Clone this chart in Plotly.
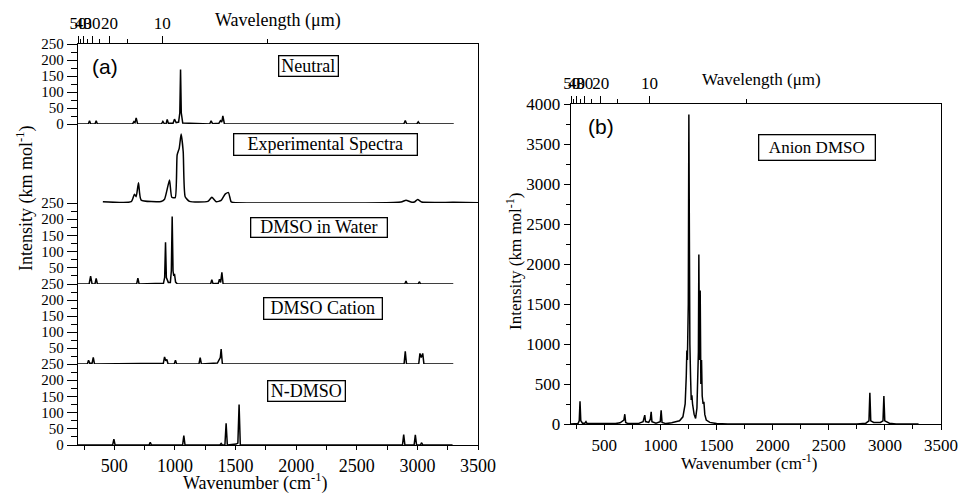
import plotly.graph_objects as go

# ---------------- data ----------------
# Panel (a) — five stacked spectra, wavenumber (cm-1) vs intensity (km/mol)
neutral_x = [200, 285, 295, 305, 340, 350, 360, 650, 661, 670, 680, 692, 888, 900, 912,
             926, 936, 946, 984, 996, 1010, 1030, 1040, 1046, 1052, 1064, 1286, 1298, 1310,
             1362, 1375, 1386, 1395, 1408, 2888, 2900, 2912, 2995, 3007, 3019, 3300]
neutral_y = [0, 0, 10, 0, 0, 10, 0, 0, 7, 4, 19, 0, 0, 8, 1,
             0, 14, 2, 2, 15, 4, 6, 35, 170, 35, 3, 0, 10, 1,
             2, 10, 6, 25, 0, 0, 11, 0, 0, 7, 0, 0]

exp_x = [405, 639, 666, 680, 699, 721, 886, 914, 933, 955, 974, 1002, 1018, 1035, 1051,
         1068, 1084, 1120, 1271, 1304, 1340, 1381, 1414, 1441, 1463, 1480, 2865, 2906,
         2947, 2975, 3002, 3035, 3300, 3600]
exp_y = [4, 4, 28, 20, 64, 9, 5, 12, 39, 73, 18, 17, 152, 173, 218,
         162, 20, 5, 5, 18, 4, 8, 28, 33, 4, 2, 3, 9,
         3, 3, 11, 3, 2, 0]

water_x = [200, 292, 304, 316, 340, 350, 360, 684, 694, 704, 905, 915, 922, 929, 945,
           962, 970, 977, 984, 990, 996, 1005, 1020, 1294, 1304, 1314, 1357, 1367, 1377,
           1387, 1397, 2896, 2906, 2916, 3006, 3016, 3026, 3296]
water_y = [0, 0, 24, 0, 0, 17, 0, 0, 18, 0, 2, 20, 129, 20, 5,
           5, 40, 208, 40, 25, 31, 6, 0, 0, 13, 1, 2, 15, 5,
           36, 0, 0, 9, 0, 0, 7, 0, 0]

cation_x = [200, 277, 287, 297, 316, 326, 336, 904, 914, 924, 933, 943, 994, 1004, 1014,
            1198, 1208, 1218, 1350, 1367, 1374, 1381, 1391, 2890, 2900, 2910, 3011, 3021,
            3032, 3044, 3054, 3296]
cation_y = [0, 0, 12, 2, 2, 21, 0, 2, 22, 10, 14, 0, 0, 12, 0,
            0, 20, 0, 3, 14, 20, 47, 0, 0, 40, 0, 0, 33,
            20, 33, 0, 0]

ndmso_x = [200, 486, 496, 506, 786, 796, 806, 1063, 1073, 1083, 1371, 1381, 1391, 1412,
           1422, 1432, 1505, 1519, 1529, 1539, 2877, 2887, 2897, 2973, 2983, 2993, 3025,
           3035, 3045, 3290]
ndmso_y = [0, 0, 18, 0, 0, 8, 0, 0, 29, 0, 0, 5, 0, 0,
           67, 0, 3, 6, 125, 0, 0, 32, 0, 0, 31, 0, 0,
           7, 0, 0]

# Panel (b) — anion DMSO
anion_x = [200, 265, 276, 283, 290, 305, 326, 336, 346, 600, 640, 664, 674, 682, 690, 710,
           800, 845, 853, 860, 867, 895, 910, 917, 924, 960, 998, 1006, 1014, 1050,
           1100, 1170, 1200, 1220, 1230, 1235, 1240, 1248, 1253, 1258, 1262, 1268, 1274,
           1280, 1286, 1300, 1313, 1325, 1333, 1338, 1342, 1348, 1354, 1360, 1366, 1372,
           1380, 1387, 1395, 1408, 1440, 1500, 1600, 2750, 2830, 2858, 2866, 2874, 2900,
           2960, 2983, 2991, 2999, 3040, 3100, 3300]
anion_y = [0, 5, 40, 285, 40, 10, 10, 30, 5, 5, 15, 40, 50, 122, 20, 5,
           5, 30, 60, 110, 30, 20, 60, 152, 30, 10, 30, 172, 20, 5,
           15, 40, 90, 250, 600, 920, 800, 1500, 3870, 1550, 1000, 600, 300,
           360, 250, 120, 70, 200, 500, 900, 2120, 800, 1670, 500, 800, 350,
           250, 277, 120, 50, 20, 5, 0, 0, 10, 40, 390, 40, 20,
           20, 40, 350, 40, 10, 0, 0]

panel_labels = ["Neutral", "Experimental Spectra", "DMSO in Water", "DMSO Cation", "N-DMSO"]

wn_ticks = [500, 1000, 1500, 2000, 2500, 3000, 3500]
wl_major = [50, 40, 30, 20, 10]
wl_minor = [45, 35, 25, 15, 5]

# ---------------- figure ----------------
W, H = 959, 494
SERIF = "Liberation Serif"
SANS = "Liberation Sans"
LW = 1.5
LINE = dict(color="black", width=LW)


def px_x(p):
    return p / W


def px_y(p):
    return 1 - p / H


fig = go.Figure()

series_a = [(neutral_x, neutral_y, "y", "linear"),
            (exp_x, exp_y, "y2", "spline"),
            (water_x, water_y, "y3", "linear"),
            (cation_x, cation_y, "y4", "linear"),
            (ndmso_x, ndmso_y, "y5", "linear")]
for xs, ys, ya, shape in series_a:
    ln = dict(color="black", width=LW, shape=shape)
    if shape == "spline":
        ln["smoothing"] = 0.5
    fig.add_trace(go.Scatter(x=xs, y=ys, xaxis="x", yaxis=ya, mode="lines", line=ln,
                             hoverinfo="skip", showlegend=False))
fig.add_trace(go.Scatter(x=anion_x, y=anion_y, xaxis="x3", yaxis="y6", mode="lines",
                         line=LINE, hoverinfo="skip", showlegend=False))
# invisible traces so the top (wavelength) axes get drawn
fig.add_trace(go.Scatter(x=[1000], y=[None], xaxis="x2", yaxis="y", mode="lines",
                         hoverinfo="skip", showlegend=False))
fig.add_trace(go.Scatter(x=[1000], y=[None], xaxis="x4", yaxis="y6", mode="lines",
                         hoverinfo="skip", showlegend=False))

# panel (a) geometry (pixels)
ax_left, ax_right = 78, 478
bounds = [44, 124, 203, 284, 364, 445]
xdom_a = [px_x(ax_left), px_x(ax_right)]

tick_font_y = dict(family=SERIF, size=15, color="black")
tick_font_x = dict(family=SERIF, size=18, color="black")
TK = dict(tickwidth=1.2, tickcolor="black")
AXW = 1.3

common_y = dict(range=[0, 250], showline=True, linecolor="black", linewidth=AXW,
                mirror=True, showgrid=False, zeroline=False, fixedrange=True,
                tickfont=tick_font_y, anchor="x", automargin=False)

y_tickvals = [[0, 50, 100, 150, 200, 250],
              None,
              [50, 100, 150, 200, 250],
              [50, 100, 150, 200, 250],
              [0, 50, 100, 150, 200, 250]]
for i in range(5):
    name = "yaxis" if i == 0 else f"yaxis{i+1}"
    dom = [px_y(bounds[i + 1]), px_y(bounds[i])]
    cfg = dict(common_y, domain=dom)
    if y_tickvals[i] is None:
        cfg.update(showticklabels=False, ticks="")
    else:
        cfg.update(tickmode="array", tickvals=y_tickvals[i],
                   ticktext=[str(v) for v in y_tickvals[i]],
                   ticks="outside", ticklen=10, **TK,
                   minor=dict(ticks="outside", dtick=25, tick0=0, ticklen=6, **TK))
    fig.update_layout(**{name: cfg})

top_common = dict(side="top", showline=True, linecolor="black", linewidth=AXW,
                  showgrid=False, zeroline=False, tickmode="array",
                  tickvals=[10000 / v for v in wl_major],
                  ticktext=[str(v) for v in wl_major], tickangle=0,
                  ticks="outside", ticklen=7, **TK,
                  minor=dict(ticks="outside", tickmode="array",
                             tickvals=[10000 / v for v in wl_minor], ticklen=4, **TK),
                  tickfont=dict(family=SERIF, size=17, color="black"), fixedrange=True,
                  automargin=False)

fig.update_layout(
    xaxis=dict(domain=xdom_a, range=[200, 3500], anchor="y5", showline=True,
               linecolor="black", linewidth=AXW, showgrid=False, zeroline=False,
               tickmode="array", tickvals=wn_ticks, ticktext=[str(v) for v in wn_ticks],
               ticks="outside", ticklen=4, **TK, tickangle=0,
               minor=dict(ticks="outside", dtick=250, tick0=0, ticklen=4, **TK),
               tickfont=tick_font_x, fixedrange=True, automargin=False),
    xaxis2=dict(top_common, overlaying="x", anchor="y", range=[200, 4000]),
)

# panel (b)
xdom_b = [px_x(570.7), px_x(941)]
ydom_b = [px_y(424), px_y(104)]
fig.update_layout(
    xaxis3=dict(domain=xdom_b, range=[200, 3500], anchor="y6", showline=True,
                linecolor="black", linewidth=AXW, showgrid=False, zeroline=False,
                tickmode="array", tickvals=wn_ticks, ticktext=[str(v) for v in wn_ticks],
                ticks="outside", ticklen=5, **TK, tickangle=0,
                minor=dict(ticks="outside", dtick=250, tick0=0, ticklen=4, **TK),
                tickfont=dict(family=SERIF, size=17, color="black"), fixedrange=True,
                automargin=False),
    xaxis4=dict(top_common, overlaying="x3", anchor="y6", range=[190, 4000]),
    yaxis6=dict(domain=ydom_b, range=[0, 4000], anchor="x3", showline=True,
                linecolor="black", linewidth=AXW, mirror=True, showgrid=False,
                zeroline=False, tickmode="array", tickvals=list(range(0, 4001, 500)),
                ticks="outside", ticklen=6, **TK,
                minor=dict(ticks="outside", dtick=250, tick0=0, ticklen=4, **TK),
                tickfont=dict(family=SERIF, size=17, color="black"), fixedrange=True,
                automargin=False),
)

ann = []


def text(x, y, s, size=18, family=SERIF, angle=0):
    ann.append(dict(x=px_x(x), y=px_y(y), xref="paper", yref="paper", text=s,
                    showarrow=False, textangle=angle, xanchor="center", yanchor="middle",
                    font=dict(family=family, size=size, color="black")))


def boxed(cx, cy, w, h, s, size=18):
    ann.append(dict(x=px_x(cx), y=px_y(cy), xref="paper", yref="paper", text=s,
                    showarrow=False, xanchor="center", yanchor="middle",
                    width=w - 4, height=h - 4, borderpad=1, bordercolor="black",
                    borderwidth=1.3, bgcolor="white", align="center",
                    font=dict(family=SERIF, size=size, color="black")))


text(278, 20, "Wavelength (μm)", 18)
text(761, 80, "Wavelength (μm)", 17)
text(255, 482, "Wavenumber (cm<sup>-1</sup>)", 18)
text(749, 462, "Wavenumber (cm<sup>-1</sup>)", 17)
text(25, 198, "Intensity (km mol<sup>-1</sup>)", 18, angle=-90)
text(514, 262, "Intensity (km mol<sup>-1</sup>)", 17, angle=-90)
text(105, 66, "(a)", 21, SANS)
text(601, 127, "(b)", 21, SANS)

box_geo = [(308, 65.5, 60, 21), (325, 144, 184, 22), (318.5, 227, 137, 20),
           (322.5, 308, 119, 22), (306, 390.5, 78, 21)]
for (cx, cy, w, h), lab in zip(box_geo, panel_labels):
    boxed(cx, cy, w, h, lab)
boxed(816.5, 148, 117, 26, "Anion DMSO", 17)

fig.update_layout(width=W, height=H,
                  margin=dict(l=0, r=0, t=0, b=0, pad=0, autoexpand=False),
                  paper_bgcolor="white", plot_bgcolor="white", annotations=ann,
                  showlegend=False)

fig.write_html("out.html", config={"displayModeBar": False},
               post_script="document.body.style.margin='0px';"
                           "document.body.style.overflow='hidden';")
